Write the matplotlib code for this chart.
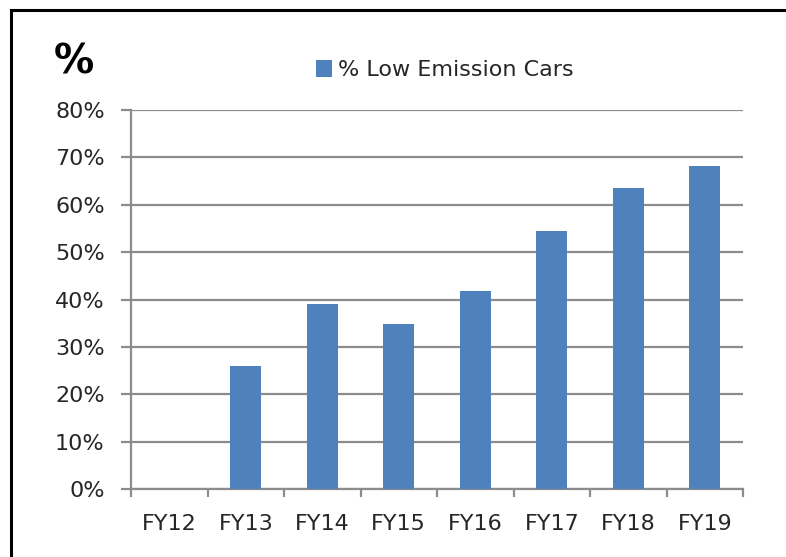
import matplotlib.pyplot as plt
from matplotlib.lines import Line2D

# Datos
categorias = ["FY12", "FY13", "FY14", "FY15", "FY16", "FY17", "FY18", "FY19"]
porcentaje_bajas_emisiones = [0, 25.9, 39.0, 34.9, 41.8, 54.4, 63.5, 68.2]
ticks_y = [0, 10, 20, 30, 40, 50, 60, 70, 80]

azul = "#4F81BD"
gris = "#8C8C8C"
texto = "#262626"

plt.rcParams["font.family"] = ["DejaVu Sans"]

fig = plt.figure(figsize=(7.86, 5.57), dpi=100)
ax = fig.add_axes([0.1667, 0.122, 0.7786, 0.6805])

posiciones = range(len(categorias))
ax.bar(posiciones, porcentaje_bajas_emisiones, width=0.4, color=azul,
       label="% Low Emission Cars", zorder=3)

ax.set_xlim(-0.5, len(categorias) - 0.5)
ax.set_ylim(0, 80)
ax.set_yticks(ticks_y)
ax.set_yticklabels([f"{v}%" for v in ticks_y])
ax.set_xticks(list(posiciones))
ax.set_xticklabels(categorias)
ax.set_xticks([i - 0.5 for i in range(len(categorias) + 1)], minor=True)

ax.grid(axis="y", color=gris, linewidth=1.6, zorder=0)
ax.tick_params(axis="y", length=7, width=1.6, color=gris, pad=12,
               labelsize=16, labelcolor=texto)
ax.tick_params(axis="x", which="major", length=0, pad=18,
               labelsize=16, labelcolor=texto)
ax.tick_params(axis="x", which="minor", length=6, width=1.6, color=gris)

for lado in ["top", "right"]:
    ax.spines[lado].set_visible(False)
for lado in ["left", "bottom"]:
    ax.spines[lado].set_color(gris)
    ax.spines[lado].set_linewidth(1.6)

# Título "%" grande a la izquierda
fig.text(0.094, 0.888, "%", fontsize=29, fontweight="heavy",
         ha="center", va="center", color="black")

# Leyenda arriba al centro
fig.legend(loc="center", bbox_to_anchor=(0.566, 0.874), frameon=False,
           fontsize=16, handlelength=0.7, handleheight=0.8, handletextpad=0.3,
           labelcolor=texto)

# Marco negro (solo arriba e izquierda visibles)
fig.add_artist(Line2D([11 / 786, 1.02], [1 - 10 / 557, 1 - 10 / 557],
                      transform=fig.transFigure, color="black", linewidth=2.2))
fig.add_artist(Line2D([11 / 786, 11 / 786], [1 - 10 / 557, -0.02],
                      transform=fig.transFigure, color="black", linewidth=2.2))

plt.savefig("out.png", dpi=100)
